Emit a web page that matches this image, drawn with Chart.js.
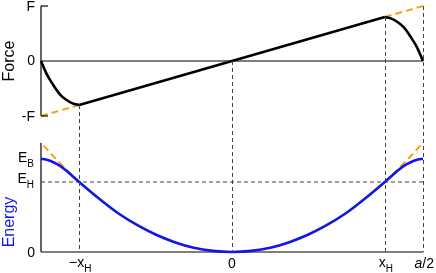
<!DOCTYPE html>
<html>
<head>
<meta charset="utf-8">
<script src="https://cdn.jsdelivr.net/npm/chart.js@4/dist/chart.umd.min.js"></script>
<style>
  html, body { margin: 0; padding: 0; background: #fff; }
  #wrap { width: 436px; height: 273px; }
</style>
</head>
<body>
<div id="wrap"><canvas id="c" width="436" height="273"></canvas></div>
<script>
// x in units of a/2, force in units of F, energy in units of E_H
const xH = 0.8;
const forceLeftX = [-1, -0.97, -0.935, -0.9, -0.87, -0.835, -0.8];
const forceLeftY = [0, -0.24, -0.44, -0.61, -0.70, -0.77, -0.8];
const forceMidX = [-0.8, 0, 0.8];
const forceMidY = [-0.8, 0, 0.8];
const forceRightX = [0.8, 0.835, 0.87, 0.9, 0.935, 0.97, 1];
const forceRightY = [0.8, 0.77, 0.70, 0.61, 0.44, 0.24, 0];
const forceLinL = [[-1, -1], [-0.8, -0.8]];
const forceLinR = [[0.8, 0.8], [1, 1]];

const energyX = [-1, -0.98, -0.95, -0.9, -0.85, -0.8, -0.7, -0.6, -0.5, -0.4, -0.3, -0.2, -0.1, 0,
                 0.1, 0.2, 0.3, 0.4, 0.5, 0.6, 0.7, 0.8, 0.85, 0.9, 0.95, 0.98, 1];
const energyY = [1.33, 1.325, 1.30, 1.23, 1.12, 1.0, 0.77, 0.56, 0.39, 0.25, 0.14, 0.06, 0.016, 0,
                 0.016, 0.06, 0.14, 0.25, 0.39, 0.56, 0.77, 1.0, 1.12, 1.23, 1.30, 1.325, 1.33];
const parabX = [0.8, 0.85, 0.9, 0.95, 1];
const parabY = [1.0, 1.13, 1.27, 1.41, 1.5625];
const EB = 1.33;
const EH = 1;

const pts = (xs, ys) => xs.map((x, i) => ({ x, y: ys[i] }));
const mirror = (xs, ys) => xs.map((x, i) => ({ x: -x, y: ys[i] }));
const pairs = (arr) => arr.map(([x, y]) => ({ x, y }));

const BLUE = "#1414e6";
const ORANGE = "#f2a31b";
const GREY = "#444";
const FONT = '"Liberation Sans", Arial, sans-serif';

const line = (data, yAxisID, color, width, extra) => Object.assign({
  data, yAxisID, borderColor: color, borderWidth: width,
  pointRadius: 0, fill: false, clip: false,
  borderCapStyle: "butt", borderJoinStyle: "round",
}, extra || {});

const smooth = { cubicInterpolationMode: "monotone", order: 0 };
const dashed = { borderDash: [7, 4], order: 2 };

const datasets = [
  line(pts(forceLeftX, forceLeftY), "yF", "#000", 2.6, smooth),
  line(pts(forceMidX, forceMidY), "yF", "#000", 2.6, { order: 0 }),
  line(pts(forceRightX, forceRightY), "yF", "#000", 2.6, smooth),
  line(pts(energyX, energyY), "yE", BLUE, 2.6, smooth),
  line(pairs(forceLinL), "yF", ORANGE, 2, dashed),
  line(pairs(forceLinR), "yF", ORANGE, 2, dashed),
  line(pts(parabX, parabY), "yE", ORANGE, 2, Object.assign({ cubicInterpolationMode: "monotone" }, dashed)),
  line(mirror(parabX, parabY), "yE", ORANGE, 2, Object.assign({ cubicInterpolationMode: "monotone" }, dashed)),
  // axes
  line(pairs([[-1, 0], [1, 0]]), "yF", "#000", 1.2, { order: 3 }),
  line(pairs([[-1, -1], [-1, 1]]), "yF", "#000", 1.2, { order: 3 }),
  line(pairs([[-1, 0], [1, 0]]), "yE", "#000", 1.2, { order: 3 }),
  line(pairs([[-1, 0], [-1, 1.56]]), "yE", "#000", 1.2, { order: 3 }),
  line(pairs([[-1, EH], [1, EH]]), "yE", GREY, 1, { borderDash: [4, 3], order: 4 }),
];

// vertical dashed guides from the force curve down to the energy baseline
const guideX = [-xH, 0, xH, 1];
const guideF = [-0.8, 0, 0.8, 1];

const decor = {
  id: "decor",
  afterDatasetsDraw(chart) {
    const ctx = chart.ctx;
    const sx = chart.scales.x, sf = chart.scales.yF, se = chart.scales.yE;
    ctx.save();
    ctx.strokeStyle = GREY;
    ctx.lineWidth = 1;
    ctx.setLineDash([4, 3]);
    guideX.forEach((gx, i) => {
      const px = Math.round(sx.getPixelForValue(gx)) + 0.5;
      ctx.beginPath();
      ctx.moveTo(px, sf.getPixelForValue(guideF[i]));
      ctx.lineTo(px, se.getPixelForValue(0));
      ctx.stroke();
    });
    ctx.setLineDash([]);
    ctx.strokeStyle = "#000";
    ctx.lineWidth = 1.2;
    const ax = sx.getPixelForValue(-1);
    [1, -1].forEach((v) => {
      const py = sf.getPixelForValue(v);
      ctx.beginPath();
      ctx.moveTo(ax, py);
      ctx.lineTo(ax + 7, py);
      ctx.stroke();
    });
    ctx.restore();
  },
  afterDraw(chart) {
    const ctx = chart.ctx;
    const sx = chart.scales.x, sf = chart.scales.yF, se = chart.scales.yE;
    ctx.save();
    ctx.fillStyle = "#000";
    ctx.font = "14px " + FONT;
    ctx.textAlign = "right";
    ctx.textBaseline = "middle";
    ctx.fillText("F", 35, sf.getPixelForValue(1) + 1);
    ctx.fillText("0", 35, sf.getPixelForValue(0));
    ctx.fillText("-F", 35, sf.getPixelForValue(-1) + 1);
    ctx.fillText("0", 35, se.getPixelForValue(0) + 1);

    const sub = (main, s, xRight, yMid) => {
      ctx.font = "10px " + FONT;
      const ws = ctx.measureText(s).width;
      ctx.textAlign = "right";
      ctx.fillText(s, xRight, yMid + 6);
      ctx.font = "14px " + FONT;
      ctx.fillText(main, xRight - ws, yMid);
    };
    sub("E", "B", 34, se.getPixelForValue(EB) - 1);
    sub("E", "H", 34, se.getPixelForValue(EH) - 3);

    // x labels
    const base = 268;
    ctx.textBaseline = "alphabetic";
    const xlab = (main, s, cx) => {
      ctx.font = "14px " + FONT;
      const wm = ctx.measureText(main).width;
      ctx.font = "10px " + FONT;
      const ws = ctx.measureText(s).width;
      const left = cx - (wm + ws) / 2;
      ctx.textAlign = "left";
      ctx.font = "14px " + FONT;
      ctx.fillText(main, left, base - 1);
      ctx.font = "10px " + FONT;
      ctx.fillText(s, left + wm, base + 4);
    };
    xlab("\u2212x", "H", sx.getPixelForValue(-xH) + 1);
    xlab("x", "H", sx.getPixelForValue(xH) + 1);
    ctx.font = "14px " + FONT;
    ctx.textAlign = "center";
    ctx.fillText("0", sx.getPixelForValue(0), base);
    ctx.font = "italic 14px " + FONT;
    const wa = ctx.measureText("a").width;
    ctx.font = "14px " + FONT;
    const w2 = ctx.measureText("/2").width;
    const aLeft = 434 - wa - w2;
    ctx.textAlign = "left";
    ctx.font = "italic 14px " + FONT;
    ctx.fillText("a", aLeft, base);
    ctx.font = "14px " + FONT;
    ctx.fillText("/2", aLeft + wa, base);

    // axis titles
    ctx.font = "16px " + FONT;
    ctx.textAlign = "center";
    ctx.textBaseline = "middle";
    ctx.save();
    ctx.translate(10, sf.getPixelForValue(0));
    ctx.rotate(-Math.PI / 2);
    ctx.fillText("Force", 0, 0);
    ctx.restore();
    ctx.save();
    ctx.fillStyle = BLUE;
    ctx.translate(10, 222);
    ctx.rotate(-Math.PI / 2);
    ctx.fillText("Energy", 0, 0);
    ctx.restore();
    ctx.restore();
  },
};

new Chart(document.getElementById("c"), {
  type: "line",
  data: { datasets },
  options: {
    responsive: false,
    animation: false,
    events: [],
    layout: { padding: { left: 41, right: 13, top: 6, bottom: 21 } },
    plugins: { legend: { display: false }, tooltip: { enabled: false }, title: { display: false } },
    scales: {
      x: { type: "linear", min: -1, max: 1, display: false },
      yF: { type: "linear", min: -3.4727, max: 1, display: false },
      yE: { type: "linear", min: 0, max: 3.514, display: false },
    },
  },
  plugins: [decor],
});
</script>
</body>
</html>
